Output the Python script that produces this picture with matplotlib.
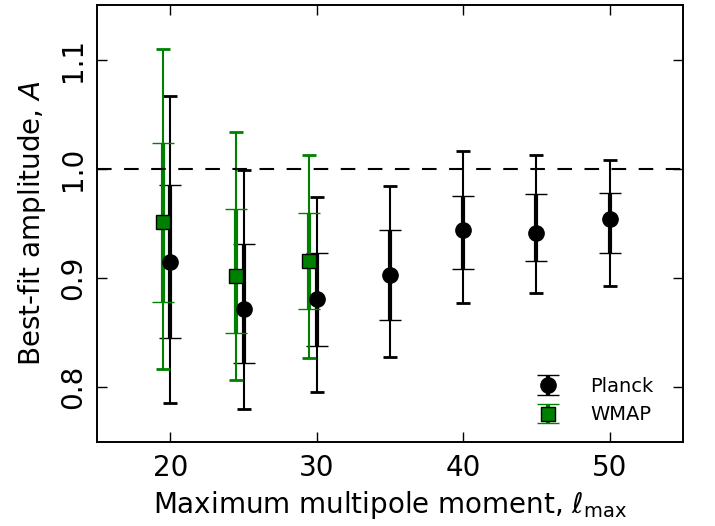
import numpy as np
import matplotlib
matplotlib.use("Agg")
import matplotlib.pyplot as plt

#####################################
# Data
#####################################

planck_lmax = np.array([20, 25, 30, 35, 40, 45, 50])
planck_amp = np.array([0.915, 0.872, 0.881, 0.903, 0.944, 0.941, 0.954])
planck_lo1 = np.array([0.845, 0.822, 0.838, 0.862, 0.908, 0.916, 0.923])
planck_hi1 = np.array([0.985, 0.931, 0.923, 0.944, 0.975, 0.977, 0.978])
planck_lo2 = np.array([0.786, 0.780, 0.796, 0.828, 0.877, 0.886, 0.893])
planck_hi2 = np.array([1.067, 0.999, 0.974, 0.984, 1.016, 1.013, 1.008])

wmap_lmax = np.array([19.5, 24.5, 29.5])
wmap_amp = np.array([0.951, 0.902, 0.916])
wmap_lo1 = np.array([0.878, 0.850, 0.872])
wmap_hi1 = np.array([1.024, 0.963, 0.960])
wmap_lo2 = np.array([0.817, 0.807, 0.827])
wmap_hi2 = np.array([1.110, 1.034, 1.013])

#####################################
# Figure
#####################################

plt.rcParams["font.family"] = ["DejaVu Sans"]
plt.rcParams["mathtext.fontset"] = "dejavusans"

fig = plt.figure(figsize=(7.15, 5.26), dpi=100)
ax = fig.add_axes([0.1357, 0.1597, 0.8195, 0.8308])


def draw_series(x, y, lo1, hi1, lo2, hi2, color, marker, ms, label):
    # 2-sigma: thin bars
    ax.errorbar(x, y, yerr=[y - lo2, hi2 - y], fmt="none", ecolor=color,
                elinewidth=1.5, capsize=5, capthick=2)
    # 1-sigma: thick bars plus the marker
    ax.errorbar(x, y, yerr=[y - lo1, hi1 - y], fmt=marker, color=color,
                mec="k", mew=1, ms=ms, ecolor=color, elinewidth=3,
                capsize=8, capthick=2, label=label)


draw_series(planck_lmax, planck_amp, planck_lo1, planck_hi1,
            planck_lo2, planck_hi2, "black", "o", 11, "Planck")
draw_series(wmap_lmax, wmap_amp, wmap_lo1, wmap_hi1,
            wmap_lo2, wmap_hi2, "green", "s", 10, "WMAP")

ax.axhline(1.0, color="black", lw=1.5, dashes=(7, 6), zorder=5)

ax.set_xlim(15, 55)
ax.set_ylim(0.75, 1.15)
ax.set_xticks([20, 30, 40, 50])
ax.set_yticks([0.8, 0.9, 1.0, 1.1])
ax.tick_params(direction="in", length=7, width=1, top=True, right=True,
               labelsize=20, pad=9)
ax.tick_params(axis="y", pad=7)
for lab in ax.get_yticklabels():
    lab.set_rotation(90)
    lab.set_va("center")
for sp in ax.spines.values():
    sp.set_linewidth(1.4)

ax.set_xlabel(r"Maximum multipole moment, $\ell_{\rm max}$", fontsize=20,
              labelpad=5)
ax.set_ylabel(r"Best-fit amplitude, $A$", fontsize=20, labelpad=8)

ax.legend(loc="lower right", frameon=False, numpoints=1, fontsize=14,
          handletextpad=1.4, labelspacing=0.5, handlelength=1.6,
          bbox_to_anchor=(0.98, 0.0))

fig.savefig("out.png", dpi=100)
